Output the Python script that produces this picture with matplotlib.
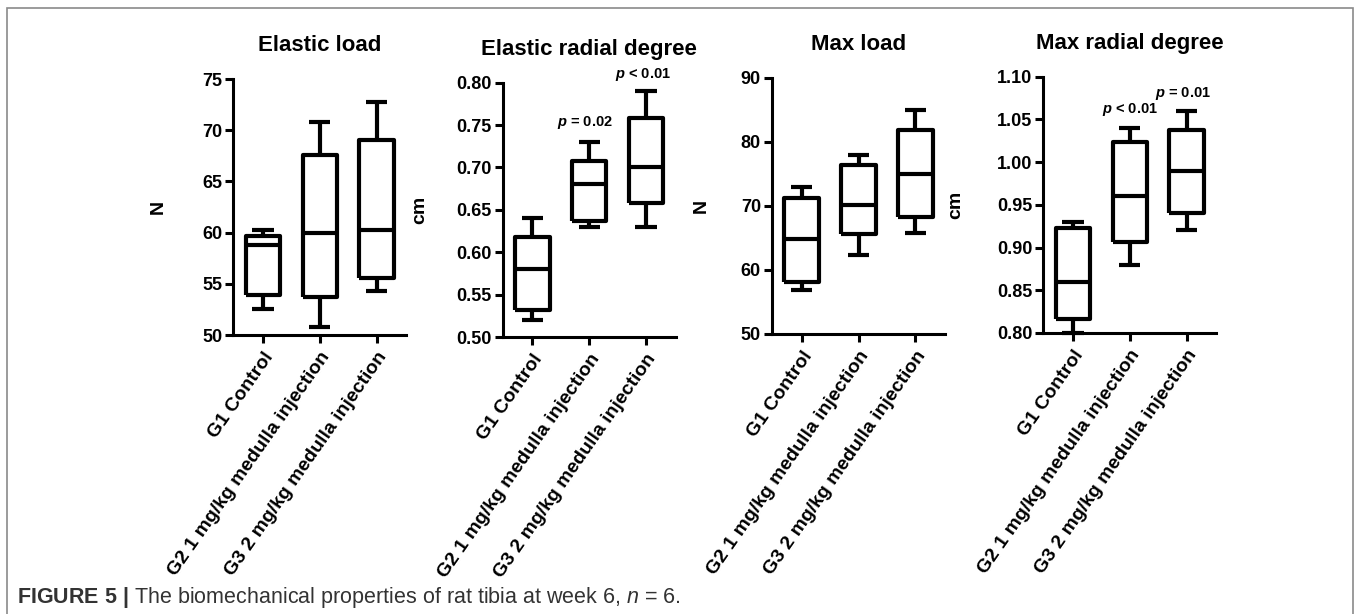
import matplotlib
matplotlib.use("Agg")
import matplotlib.pyplot as plt
import matplotlib.patches as patches
import numpy as np

plt.rcParams['font.family'] = ['Liberation Sans', 'DejaVu Sans']
plt.rcParams['mathtext.fontset'] = 'custom'
plt.rcParams['mathtext.rm'] = 'Liberation Sans'
plt.rcParams['mathtext.it'] = 'Liberation Sans:italic'
plt.rcParams['mathtext.bf'] = 'Liberation Sans:bold'
plt.rcParams['mathtext.bfit'] = 'Liberation Sans:italic:bold'

# ---------------- data ----------------
groups = ["G1 Control", "G2 1 mg/kg medulla injection", "G3 2 mg/kg medulla injection"]
titles = ["Elastic load", "Elastic radial degree", "Max load", "Max radial degree"]
ylabels = ["N", "cm", "N", "cm"]

elastic_load_whislo = [52.5, 50.8, 54.3]
elastic_load_q1 = [53.9, 53.7, 55.6]
elastic_load_med = [58.8, 60.0, 60.3]
elastic_load_q3 = [59.7, 67.6, 69.0]
elastic_load_whishi = [60.3, 70.8, 72.8]

elastic_radial_whislo = [0.52, 0.63, 0.63]
elastic_radial_q1 = [0.532, 0.637, 0.658]
elastic_radial_med = [0.58, 0.68, 0.70]
elastic_radial_q3 = [0.618, 0.708, 0.758]
elastic_radial_whishi = [0.64, 0.73, 0.79]

max_load_whislo = [56.9, 62.4, 65.8]
max_load_q1 = [58.2, 65.7, 68.3]
max_load_med = [64.8, 70.1, 75.0]
max_load_q3 = [71.3, 76.4, 81.9]
max_load_whishi = [73.0, 78.0, 85.0]

max_radial_whislo = [0.80, 0.88, 0.92]
max_radial_q1 = [0.816, 0.906, 0.941]
max_radial_med = [0.86, 0.96, 0.99]
max_radial_q3 = [0.923, 1.023, 1.038]
max_radial_whishi = [0.93, 1.04, 1.06]

yticks_elastic_load = [50, 55, 60, 65, 70, 75]
yticks_elastic_radial = [0.50, 0.55, 0.60, 0.65, 0.70, 0.75, 0.80]
yticks_max_load = [50, 60, 70, 80, 90]
yticks_max_radial = [0.80, 0.85, 0.90, 0.95, 1.00, 1.05, 1.10]

# p-value annotations: (group index, text)
p_elastic_radial = [(1, "= 0.02"), (2, "< 0.01")]
p_max_radial = [(1, "< 0.01"), (2, "= 0.01")]

panels = [
    (elastic_load_whislo, elastic_load_q1, elastic_load_med, elastic_load_q3, elastic_load_whishi, yticks_elastic_load, "{:.0f}"),
    (elastic_radial_whislo, elastic_radial_q1, elastic_radial_med, elastic_radial_q3, elastic_radial_whishi, yticks_elastic_radial, "{:.2f}"),
    (max_load_whislo, max_load_q1, max_load_med, max_load_q3, max_load_whishi, yticks_max_load, "{:.0f}"),
    (max_radial_whislo, max_radial_q1, max_radial_med, max_radial_q3, max_radial_whishi, yticks_max_radial, "{:.2f}"),
]

# ---------------- layout (pixels) ----------------
W, H = 1357, 614
fig = plt.figure(figsize=(W / 100, H / 100), dpi=100)

ax_left_px = [233.4, 502.6, 772.0, 1043.4]
ax_top_px = [79.0, 82.7, 78.0, 76.7]
ax_bot_px = [335.0, 337.0, 334.0, 333.0]
ax_w_px = 173.0
ylabel_x = [-0.383, -0.43, -0.36, -0.459]

LW_BOX = 3.0
LW_AX = 2.2

axes = []
for i, (lo, q1, med, q3, hi, yt, fmt) in enumerate(panels):
    ax = fig.add_axes([ax_left_px[i] / W, 1 - ax_bot_px[i] / H,
                       ax_w_px / W, (ax_bot_px[i] - ax_top_px[i]) / H])
    stats = [dict(whislo=lo[k], q1=q1[k], med=med[k], q3=q3[k], whishi=hi[k], fliers=[])
             for k in range(len(groups))]
    arts = ax.bxp(stats, positions=range(len(groups)), widths=0.61, capwidths=0.37,
                  showfliers=False, patch_artist=False,
                  boxprops=dict(color='black', linewidth=LW_BOX),
                  whiskerprops=dict(color='black', linewidth=LW_BOX),
                  capprops=dict(color='black', linewidth=LW_BOX),
                  medianprops=dict(color='black', linewidth=LW_BOX))
    for key in arts:
        for a in arts[key]:
            a.set_clip_on(False)
            a.set_solid_capstyle('butt')
    ax.set_xlim(-0.52, 2.52)
    ax.set_ylim(yt[0], yt[-1])
    ax.set_yticks(yt)
    ax.set_yticklabels([fmt.format(v) for v in yt], fontsize=13, fontweight='bold')
    ax.set_xticks(range(len(groups)))
    ax.set_xticklabels(groups, rotation=55, ha='right', va='top', rotation_mode='anchor',
                       fontsize=14, fontweight='bold')
    ax.spines['top'].set_visible(False)
    ax.spines['right'].set_visible(False)
    ax.spines['left'].set_linewidth(LW_AX)
    ax.spines['bottom'].set_linewidth(LW_AX)
    ax.tick_params(axis='both', direction='out', length=6, width=LW_AX, colors='black')
    ax.tick_params(axis='y', pad=2)
    ax.tick_params(axis='x', pad=4)
    ax.set_title(titles[i], fontsize=16, fontweight='bold', pad=20)
    ax.set_ylabel(ylabels[i], fontsize=14, fontweight='bold')
    ax.yaxis.set_label_coords(ylabel_x[i], 0.5)
    ax.set_facecolor('none')
    axes.append(ax)

# p-value annotations
def add_p(ax, entries, offsets):
    for (g, txt), (dx, dy) in zip(entries, offsets):
        ax.annotate(r"$\mathbfit{p}$ " + txt, xy=(g, 0), xycoords=('data', 'axes fraction'),
                    xytext=(g + dx, dy), textcoords=('data', 'data'),
                    ha='center', va='center', fontsize=10.5, fontweight='bold',
                    annotation_clip=False)

add_p(axes[1], p_elastic_radial, [(-0.08, 0.7525), (-0.05, 0.810)])
add_p(axes[3], p_max_radial, [(0.0, 1.062), (-0.07, 1.080)])

# frame and caption
fig.patches.append(patches.Rectangle((7 / W, -0.05), (1353 - 7) / W, 1.05 - 8 / H,
                                     transform=fig.transFigure, fill=False,
                                     edgecolor='#8a8a8a', linewidth=1.2))
fig.text(17 / W, 1 - 597 / H,
         r"$\mathbf{FIGURE\ 5\ |}$ The biomechanical properties of rat tibia at week 6, $\mathit{n}$ = 6.",
         fontsize=15.5, color='#333333', va='center', ha='left')

fig.savefig("out.png", dpi=100)
